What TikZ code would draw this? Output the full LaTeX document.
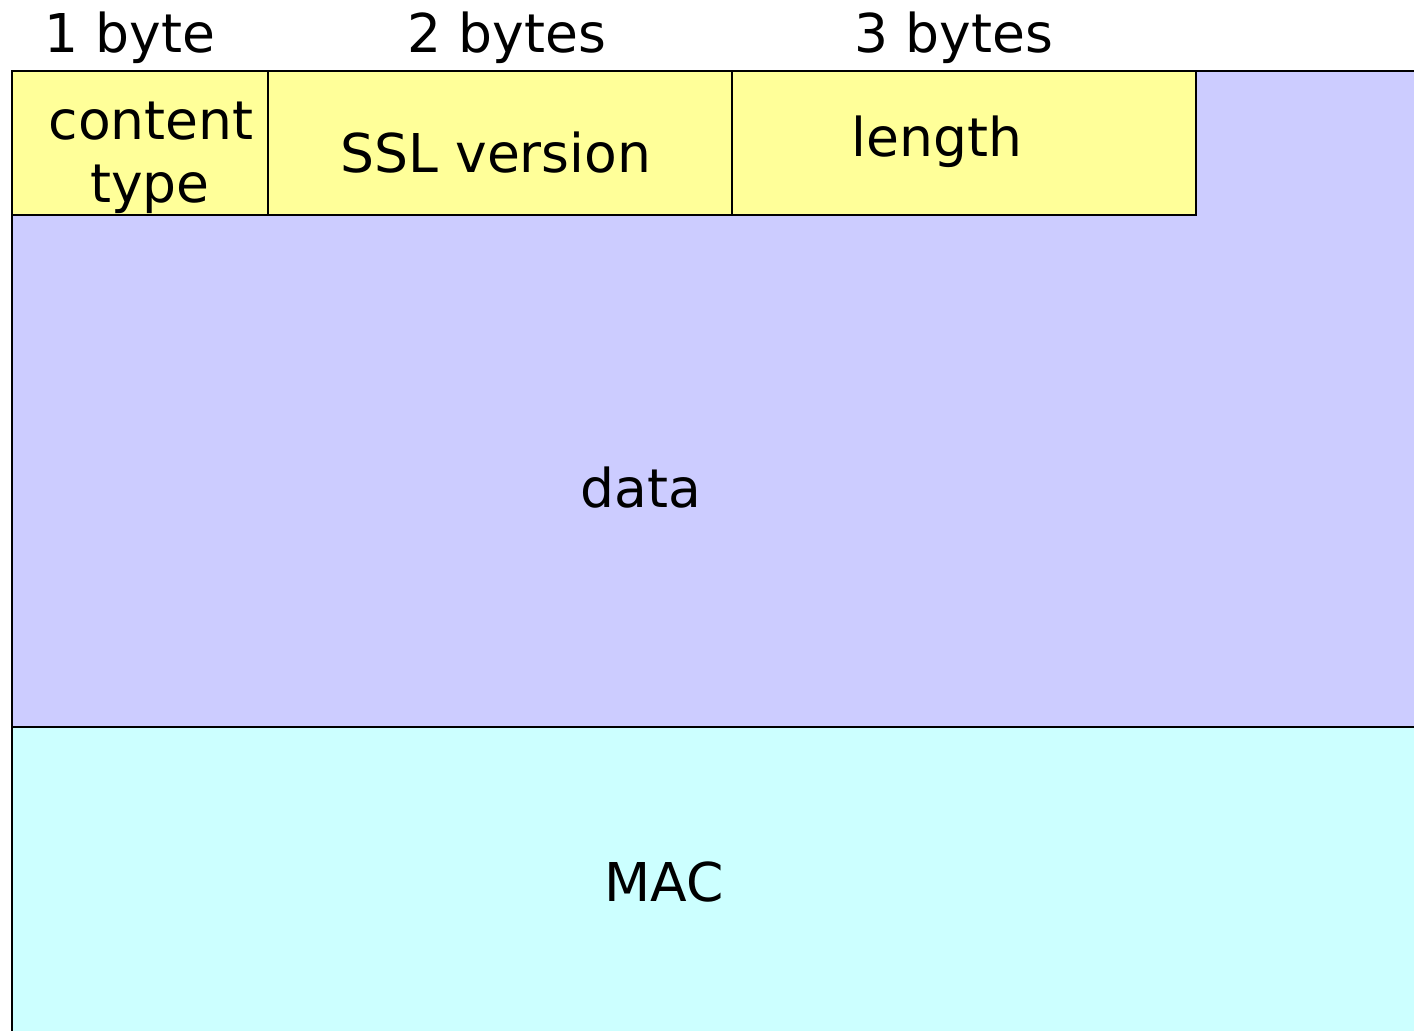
\documentclass[tikz,border=0pt]{standalone}
\usepackage{fontspec}
\setmainfont{DejaVu Sans}
\definecolor{hdr}{RGB}{255,255,153}
\definecolor{dat}{RGB}{204,204,255}
\definecolor{mac}{RGB}{204,255,255}
\begin{document}
\begin{tikzpicture}[x=1pt,y=-1pt,
  box/.style={draw=black,line width=1.8pt},
  lbl/.style={anchor=base,inner sep=0pt,font=\fontsize{53.5}{64}\selectfont}]
\useasboundingbox (0,0) rectangle (1414,1031);
\clip (0,0) rectangle (1414,1031);
\fill[white] (0,0) rectangle (1414,1031);
% data and MAC areas
\draw[box,fill=dat] (12,71) rectangle (1430,727);
\draw[box,fill=mac] (12,727) rectangle (1430,1045);
% header fields
\draw[box,fill=hdr] (12,71) rectangle (268,215);
\draw[box,fill=hdr] (268,71) rectangle (732,215);
\draw[box,fill=hdr] (732,71) rectangle (1196,215);
% labels
\node[lbl] (b1) at (130,52) {1 byte};
\node[lbl] (b2) at (507,52) {2 bytes};
\node[lbl] (b3) at (954,52) {3 bytes};
\node[lbl] (ct1) at (151,139) {content};
\node[lbl] (ct2) at (150,202) {type};
\node[lbl] (ssl) at (496,172) {SSL version};
\node[lbl] (len) at (937,156) {length};
\node[lbl] (data) at (641,507) {data};
\node[lbl] (mactxt) at (664,901) {MAC};
\end{tikzpicture}
\end{document}
